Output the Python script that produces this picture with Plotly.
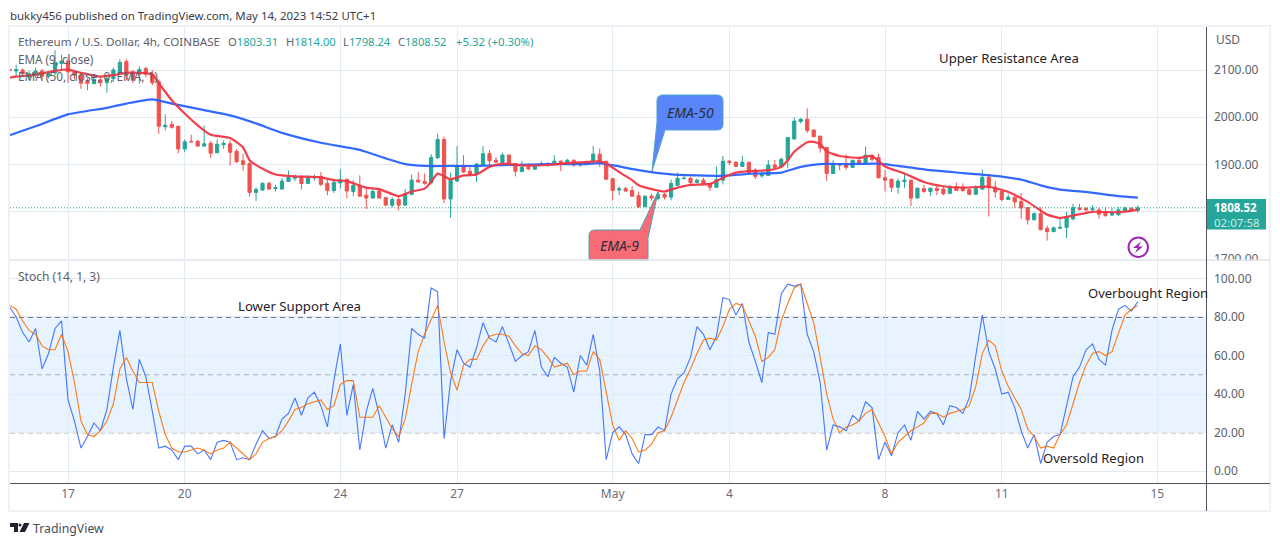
import pandas as pd
import plotly.graph_objects as go

#%% Data (4h bars, ETH/USD)

bar_times = pd.date_range("2023-04-15 13:00", periods=175, freq="4h")

opens = [2101, 2098, 2100, 2085, 2090, 2098, 2087, 2094, 2114, 2119,
         2096, 2089, 2077, 2071, 2079, 2073, 2082, 2096, 2118, 2096,
         2091, 2103, 2091, 2075, 1980, 1985, 1981, 1933, 1949, 1949,
         1939, 1945, 1925, 1942, 1944, 1928, 1908, 1902, 1841, 1846,
         1860, 1849, 1848, 1864, 1871, 1873, 1860, 1872, 1875, 1860,
         1845, 1861, 1869, 1843, 1855, 1835, 1829, 1844, 1830, 1814,
         1826, 1814, 1837, 1867, 1864, 1861, 1914, 1953, 1827, 1865,
         1898, 1886, 1879, 1899, 1923, 1909, 1904, 1920, 1902, 1885,
         1894, 1890, 1899, 1902, 1901, 1907, 1904, 1909, 1899, 1906,
         1906, 1922, 1907, 1870, 1846, 1849, 1845, 1834, 1811, 1833,
         1828, 1837, 1831, 1856, 1870, 1871, 1862, 1867, 1860, 1852,
         1867, 1907, 1905, 1896, 1905, 1888, 1876, 1877, 1899, 1895,
         1911, 1954, 1991, 1996, 1973, 1960, 1936, 1881, 1901, 1901,
         1894, 1909, 1902, 1919, 1915, 1872, 1869, 1852, 1864, 1867,
         1829, 1849, 1843, 1850, 1848, 1839, 1853, 1851, 1847, 1837,
         1848, 1873, 1852, 1843, 1826, 1831, 1822, 1809, 1783, 1796,
         1765, 1758, 1765, 1767, 1785, 1808, 1807, 1804, 1804, 1799,
         1793, 1794, 1802, 1807, 1803.31]

highs = [2103, 2111, 2103, 2098, 2105, 2102, 2096, 2142, 2132, 2125,
         2100, 2095, 2082, 2089, 2086, 2089, 2105, 2123, 2123, 2100,
         2108, 2107, 2100, 2080, 2006, 1992, 1982, 1953, 1963, 1952,
         1983, 1950, 1953, 1951, 1951, 1933, 1923, 1905, 1852, 1863,
         1864, 1857, 1871, 1887, 1879, 1877, 1877, 1879, 1884, 1868,
         1868, 1890, 1869, 1867, 1877, 1849, 1849, 1850, 1831, 1831,
         1833, 1848, 1879, 1884, 1881, 1922, 1965, 1959, 1883, 1939,
         1920, 1895, 1903, 1939, 1931, 1916, 1925, 1921, 1903, 1907,
         1902, 1901, 1907, 1905, 1920, 1909, 1912, 1911, 1906, 1908,
         1939, 1934, 1908, 1871, 1854, 1853, 1854, 1843, 1835, 1838,
         1842, 1840, 1868, 1883, 1880, 1874, 1870, 1872, 1861, 1896,
         1918, 1910, 1907, 1918, 1906, 1892, 1885, 1909, 1909, 1915,
         1958, 2000, 1998, 2019, 1974, 1961, 1937, 1909, 1903, 1921,
         1910, 1913, 1938, 1922, 1923, 1888, 1870, 1870, 1880, 1868,
         1851, 1857, 1851, 1855, 1853, 1857, 1862, 1860, 1849, 1856,
         1890, 1881, 1865, 1844, 1837, 1832, 1840, 1810, 1799, 1810,
         1771, 1769, 1789, 1800, 1817, 1817, 1810, 1814, 1808, 1810,
         1808, 1810, 1811, 1810, 1814]

lows = [2098, 2087, 2085, 2078, 2083, 2080, 2082, 2089, 2100, 2073,
        2080, 2060, 2057, 2071, 2065, 2052, 2075, 2094, 2078, 2072,
        2071, 2085, 2068, 1965, 1972, 1976, 1924, 1926, 1947, 1938,
        1937, 1914, 1924, 1933, 1898, 1903, 1887, 1832, 1823, 1845,
        1847, 1843, 1847, 1864, 1865, 1847, 1860, 1866, 1854, 1835,
        1840, 1849, 1829, 1833, 1833, 1806, 1829, 1829, 1813, 1809,
        1803, 1813, 1835, 1862, 1857, 1860, 1913, 1818, 1787, 1863,
        1882, 1875, 1863, 1898, 1896, 1902, 1903, 1900, 1875, 1884,
        1888, 1889, 1897, 1895, 1900, 1886, 1902, 1895, 1895, 1899,
        1905, 1895, 1868, 1824, 1835, 1842, 1832, 1808, 1810, 1824,
        1824, 1826, 1824, 1855, 1869, 1856, 1860, 1859, 1844, 1851,
        1858, 1899, 1895, 1895, 1881, 1869, 1872, 1876, 1893, 1894,
        1892, 1953, 1987, 1967, 1958, 1925, 1865, 1880, 1888, 1889,
        1893, 1901, 1901, 1906, 1871, 1843, 1842, 1838, 1850, 1812,
        1829, 1840, 1833, 1835, 1835, 1837, 1844, 1842, 1835, 1836,
        1847, 1790, 1830, 1822, 1825, 1809, 1785, 1773, 1782, 1761,
        1739, 1757, 1765, 1744, 1782, 1803, 1801, 1803, 1785, 1789,
        1792, 1791, 1800, 1800, 1798.24]

closes = [2099, 2101, 2092, 2092, 2098, 2087, 2092, 2116, 2119, 2096,
          2089, 2072, 2072, 2080, 2073, 2082, 2100, 2116, 2089, 2079,
          2101, 2091, 2073, 1981, 1983, 1979, 1933, 1948, 1948, 1939,
          1944, 1924, 1943, 1945, 1926, 1906, 1900, 1841, 1847, 1860,
          1848, 1851, 1865, 1873, 1873, 1860, 1872, 1873, 1858, 1845,
          1862, 1868, 1844, 1856, 1833, 1829, 1843, 1829, 1814, 1826,
          1814, 1838, 1867, 1863, 1860, 1915, 1953, 1827, 1867, 1898,
          1884, 1879, 1901, 1923, 1908, 1905, 1920, 1901, 1886, 1894,
          1891, 1896, 1902, 1899, 1907, 1902, 1909, 1899, 1904, 1901,
          1922, 1902, 1869, 1845, 1849, 1844, 1833, 1811, 1833, 1829,
          1837, 1831, 1860, 1871, 1871, 1862, 1867, 1860, 1852, 1868,
          1907, 1904, 1896, 1905, 1882, 1875, 1879, 1899, 1894, 1911,
          1957, 1992, 1996, 1972, 1959, 1935, 1881, 1901, 1899, 1894,
          1909, 1902, 1920, 1911, 1872, 1867, 1852, 1865, 1867, 1829,
          1850, 1843, 1850, 1845, 1838, 1852, 1845, 1845, 1837, 1849,
          1873, 1851, 1842, 1826, 1831, 1821, 1808, 1783, 1796, 1762,
          1758, 1766, 1767, 1789, 1809, 1805, 1804, 1806, 1795, 1792,
          1797, 1804, 1808, 1802, 1808.52]

# EMA lines, read at these bars only (position in bar_times)
ema9_bars = [0, 1, 4, 7, 9, 11, 14, 16, 18, 20, 22, 23, 25, 27, 29, 31, 34, 36, 37, 39, 41, 44, 48,
             50, 52, 55, 57, 60, 62, 64, 65, 66, 68, 70, 72, 74, 76, 79, 83, 87, 90, 91, 92, 94, 96, 97,
             99, 101, 103, 105, 108, 110, 112, 114, 117, 119, 120, 121, 123, 124, 125, 126, 128, 131,
             133, 135, 138, 141, 144, 147, 151, 154, 157, 160, 162, 164, 167, 171, 174]
ema9_vals = [2084, 2086, 2090, 2098, 2101, 2094, 2086, 2089, 2094, 2094, 2091, 2072, 2036, 2008, 1983, 1963, 1956, 1936, 1909, 1891, 1879, 1875, 1873,
             1867, 1865, 1851, 1848, 1833, 1843, 1849, 1863, 1881, 1869, 1877, 1879, 1895, 1902, 1898, 1899, 1904, 1906, 1907, 1902, 1884, 1867, 1856,
             1848, 1843, 1851, 1857, 1859, 1872, 1883, 1886, 1888, 1895, 1909, 1927, 1947, 1948, 1943, 1928, 1918, 1914,
             1918, 1896, 1881, 1863, 1854, 1851, 1853, 1842, 1821, 1794, 1787, 1792, 1800, 1799, 1804]

ema50_bars = [0, 4, 9, 15, 18, 22, 25, 30, 34, 38, 42, 48, 54, 58, 61, 64, 68, 72, 77, 83, 89, 91, 94, 97,
              102, 106, 110, 115, 119, 122, 125, 129, 134, 137, 142, 147, 152, 156, 159, 162, 166, 171, 174]
ema50_vals = [1962, 1981, 2006, 2020, 2029, 2038, 2029, 2015, 2004, 1987, 1967, 1946, 1931, 1913, 1901, 1897, 1897, 1897, 1899, 1901, 1901, 1903, 1896, 1888,
              1879, 1877, 1876, 1881, 1883, 1895, 1901, 1901, 1902, 1897, 1888, 1882, 1876, 1868, 1856, 1847, 1842, 1833, 1830]

last_price = 1808.52

stoch_k = [85, 80, 72, 67, 74, 53, 61, 74, 78, 37,
           26, 12, 18, 25, 21, 32, 54, 73, 48, 32,
           58, 49, 31, 12, 13, 11, 6, 13, 13, 9,
           11, 6, 15, 16, 15, 6, 7, 6, 14, 21,
           17, 18, 27, 30, 38, 29, 38, 41, 34, 23,
           47, 66, 29, 45, 11, 31, 43, 29, 12, 24,
           15, 40, 74, 71, 69, 95, 93, 17, 47, 63,
           56, 54, 64, 77, 69, 67, 75, 66, 57, 60,
           62, 73, 54, 49, 59, 56, 54, 41, 60, 55,
           71, 52, 6, 20, 23, 19, 9, 4, 19, 19,
           23, 21, 40, 48, 51, 59, 75, 71, 63, 70,
           90, 89, 81, 87, 67, 57, 46, 72, 71, 92,
           97, 96, 97, 71, 62, 46, 11, 24, 23, 21,
           29, 26, 36, 33, 6, 15, 8, 20, 24, 16,
           31, 27, 31, 30, 24, 34, 33, 30, 38, 60,
           81, 62, 53, 40, 41, 33, 21, 12, 19, 4,
           15, 18, 19, 34, 49, 54, 63, 66, 58, 55,
           73, 84, 86, 83, 88]

stoch_d = [86, 84, 78, 73, 71, 65, 63, 63, 71, 62,
           46, 26, 19, 18, 21, 26, 35, 53, 59, 52,
           46, 46, 46, 31, 19, 12, 10, 10, 11, 12,
           11, 9, 11, 12, 15, 12, 9, 6, 9, 15,
           17, 18, 21, 26, 32, 33, 35, 36, 37, 32,
           34, 45, 47, 47, 28, 28, 28, 34, 28, 22,
           18, 27, 45, 62, 71, 79, 86, 67, 51, 42,
           55, 58, 58, 65, 70, 71, 71, 70, 65, 61,
           60, 65, 63, 59, 54, 55, 56, 50, 52, 52,
           62, 58, 40, 24, 16, 21, 17, 10, 11, 14,
           20, 21, 28, 37, 46, 53, 61, 68, 69, 68,
           75, 84, 87, 86, 78, 70, 57, 59, 63, 78,
           87, 95, 97, 87, 77, 59, 40, 27, 20, 23,
           24, 26, 30, 32, 25, 18, 9, 15, 18, 21,
           23, 25, 30, 30, 28, 30, 31, 32, 34, 44,
           61, 68, 65, 52, 44, 38, 32, 22, 18, 12,
           13, 12, 19, 24, 35, 46, 55, 61, 62, 60,
           62, 71, 81, 84, 86]

date_ticks = ["2023-04-17 01:00", "2023-04-20 01:00", "2023-04-24 01:00", "2023-04-27 01:00",
              "2023-05-01 01:00", "2023-05-04 01:00", "2023-05-08 01:00", "2023-05-11 01:00",
              "2023-05-15 01:00"]
date_labels = ["17", "20", "24", "27", "May", "4", "8", "11", "15"]

#%% Colours and page geometry

WIDTH, HEIGHT = 1280, 546
UP, DOWN = "#26a69a", "#ef5350"
GRID = "#e3ebf2"
AXIS_TEXT = "#5d606b"
FONT = "Noto Sans"


def px(x):
    return x / WIDTH


def py(y):
    return 1 - y / HEIGHT


def paper_path(points):
    # points are page pixels: ("M", x, y), ("L", x, y), ("Q", cx, cy, x, y), ("Z",)
    out = []
    for p in points:
        coords = []
        for k, v in enumerate(p[1:]):
            coords.append(f"{px(v):.5f}" if k % 2 == 0 else f"{py(v):.5f}")
        out.append(p[0] + " " + " ".join(coords))
    return " ".join(out)


def page_shape(points, fill, line="rgba(0,0,0,0)", width=1, layer="above"):
    return dict(type="path", xref="paper", yref="paper", path=paper_path(points), fillcolor=fill,
                line=dict(color=line, width=width), layer=layer)


def page_line(x0, y0, x1, y1, color, width=1):
    return dict(type="line", xref="paper", yref="paper", x0=px(x0), y0=py(y0), x1=px(x1), y1=py(y1),
                line=dict(color=color, width=width), layer="above")


def page_rect(x0, y0, x1, y1, fill, line="rgba(0,0,0,0)", width=1):
    return dict(type="rect", xref="paper", yref="paper", x0=px(x0), y0=py(y0), x1=px(x1), y1=py(y1),
                fillcolor=fill, line=dict(color=line, width=width), layer="above")


def label(x, y, text, size=12, color="#2a2e39", anchor="left", italic=False):
    if italic:
        text = f"<i>{text}</i>"
    return dict(xref="paper", yref="paper", x=px(x), y=py(y), text=text, showarrow=False,
                xanchor=anchor, yanchor="middle", align=anchor, borderpad=0, borderwidth=0,
                font=dict(family=FONT, size=size, color=color))


#%% Traces

fig = go.Figure()

fig.add_trace(go.Candlestick(x=bar_times, open=opens, high=highs, low=lows, close=closes,
                             increasing=dict(line=dict(color=UP, width=1), fillcolor=UP),
                             decreasing=dict(line=dict(color=DOWN, width=1), fillcolor=DOWN),
                             whiskerwidth=0, xaxis="x", yaxis="y", showlegend=False))

fig.add_trace(go.Scatter(x=bar_times[ema50_bars], y=ema50_vals, mode="lines", xaxis="x", yaxis="y",
                         line=dict(color="#2962ff", width=2.2, shape="spline", smoothing=0.5),
                         opacity=0.95, showlegend=False))
fig.add_trace(go.Scatter(x=bar_times[ema9_bars], y=ema9_vals, mode="lines", xaxis="x", yaxis="y",
                         line=dict(color="#f23645", width=2.2, shape="spline", smoothing=0.5),
                         opacity=0.95, showlegend=False))

fig.add_trace(go.Scatter(x=bar_times, y=stoch_k, mode="lines", xaxis="x2", yaxis="y2",
                         line=dict(color="#2962ff", width=1.1), opacity=0.85, showlegend=False))
fig.add_trace(go.Scatter(x=bar_times, y=stoch_d, mode="lines", xaxis="x2", yaxis="y2",
                         line=dict(color="#ff6d00", width=1.1), opacity=0.9, showlegend=False))

#%% Shapes: band, levels, frame, callouts

x_range = ["2023-04-15 13:13", "2023-05-16 07:00"]

shapes = [
    dict(type="rect", xref="x2 domain", yref="y2", x0=0, x1=1, y0=20, y1=80,
         fillcolor="rgba(33,150,243,0.11)", line=dict(width=0), layer="below"),
    dict(type="line", xref="x2 domain", yref="y2", x0=0, x1=1, y0=80, y1=80,
         line=dict(color="#50535e", width=1.4, dash="5px,4px"), layer="below"),
    dict(type="line", xref="x2 domain", yref="y2", x0=0, x1=1, y0=50, y1=50,
         line=dict(color="rgba(120,123,134,0.55)", width=1, dash="5px,4px"), layer="below"),
    dict(type="line", xref="x2 domain", yref="y2", x0=0, x1=1, y0=20, y1=20,
         line=dict(color="#50535e", width=1.4, dash="5px,4px"), layer="below"),
    dict(type="line", xref="x domain", yref="y", x0=0, x1=1, y0=last_price, y1=last_price,
         line=dict(color=UP, width=1, dash="1px,2px"), layer="above"),
]

# EMA-50 callout
shapes.append(page_shape([("M", 663, 95), ("L", 717, 95), ("Q", 723, 95, 723, 101), ("L", 723, 124),
                          ("Q", 723, 130, 717, 130), ("L", 665, 130), ("L", 652, 171), ("L", 657, 122),
                          ("L", 657, 101), ("Q", 657, 95, 663, 95), ("Z",)],
                         "rgba(61,112,250,0.85)", "#4fa3c9", 1))
# EMA-9 callout, its box runs into the pane edge
shapes.append(page_shape([("M", 595, 230), ("L", 640, 230), ("L", 658, 192), ("L", 648, 238),
                          ("L", 648, 260), ("L", 589, 260), ("L", 589, 236),
                          ("Q", 589, 230, 595, 230), ("Z",)],
                         "rgba(247,82,95,0.85)", "#4f9eaa", 1))

# frame, pane separator, price axis
shapes += [
    page_rect(9, 26, 1270, 511, "rgba(0,0,0,0)", "#eff1f7", 2),
    page_line(10, 260, 1270, 260, "#dfe3ea", 1.5),
    page_rect(1207, 261, 1269, 270, "#ffffff"),
    page_line(10, 483.5, 1270, 483.5, "#50535e", 1),
    page_line(1206.5, 27, 1206.5, 511, "#50535e", 1),
    page_rect(1207, 199, 1266, 229.5, UP),
]

# lightning badge
shapes.append(dict(type="circle", xref="paper", yref="paper", x0=px(1128.5), x1=px(1148), y0=py(257), y1=py(237.5),
                   line=dict(color="#9c27b0", width=2), fillcolor="#ffffff", layer="above"))
shapes.append(page_shape([("M", 1141, 241.5), ("L", 1133, 248), ("L", 1137.5, 248), ("L", 1135, 253),
                          ("L", 1143, 246.5), ("L", 1138.5, 246.5), ("Z",)], "#9c27b0"))

# TradingView logo
shapes.append(page_shape([("M", 10, 523), ("L", 18, 523), ("L", 18, 532), ("L", 14, 532), ("L", 14, 527),
                          ("L", 10, 527), ("Z",)], "#1e222d"))
shapes.append(dict(type="circle", xref="paper", yref="paper", x0=px(18.5), x1=px(21.5), y0=py(526.5), y1=py(523.5),
                   fillcolor="#1e222d", line=dict(width=0), layer="above"))
shapes.append(page_shape([("M", 24, 523), ("L", 29.5, 523), ("L", 25, 532), ("L", 19.5, 532), ("Z",)], "#1e222d"))

#%% Text


def ohlc(letter, value):
    return f'{letter}<span style="color:{UP}">{value}</span>'


annotations = [
    label(10, 15, "bukky456 published on TradingView.com, May 14, 2023 14:52 UTC+1", 11.45, "#3a3d46"),
    label(18, 42, "Ethereum / U.S. Dollar, 4h, COINBASE", 11.65, "#5d606b"),
    label(228, 42, ohlc("O", "1803.31"), 11.2, "#5d606b"),
    label(285.5, 42, ohlc("H", "1814.00"), 11.2, "#5d606b"),
    label(343, 42, ohlc("L", "1798.24"), 11.2, "#5d606b"),
    label(398, 42, ohlc("C", "1808.52"), 11.2, "#5d606b"),
    label(455.5, 42, "+5.32 (+0.30%)", 11.4, UP),
    label(18, 59, "EMA (9, close)", 11.7, "#5d606b"),
    label(18, 76, "EMA (50, close, 0, EMA, 1)", 11.8, "#5d606b"),
    label(18, 276, "Stoch (14, 1, 3)", 12, "#5d606b"),
    label(939, 58, "Upper Resistance Area", 13.2, "#1f2229"),
    label(238, 306, "Lower Support Area", 13.2, "#1f2229"),
    label(1088, 293, "Overbought Region", 13, "#1f2229"),
    label(1043, 458, "Oversold Region", 13, "#1f2229"),
    label(690, 113, "EMA-50", 14, "#2a2e39", "center", True),
    label(619, 246, "EMA-9", 14, "#2a2e39", "center", True),
    label(1216, 40, "USD", 12, AXIS_TEXT),
    label(1214, 214.7, '<b>1808.52</b><br><span style="color:#c9eae6">02:07:58</span>', 11.5, "#ffffff"),
    label(33, 528, "TradingView", 12.3, "#4a4d57"),
]

#%% Layout

left, right = px(10), px(1206)

fig.update_layout(
    width=WIDTH,
    height=HEIGHT,
    margin=dict(l=0, r=0, t=0, b=0, autoexpand=False),
    paper_bgcolor="#ffffff",
    plot_bgcolor="#ffffff",
    font=dict(family=FONT, size=12, color=AXIS_TEXT),
    shapes=shapes,
    annotations=annotations,
    xaxis=dict(domain=[left, right], anchor="y", range=x_range, type="date", tickvals=date_ticks,
               showticklabels=False, showgrid=True, gridcolor=GRID, zeroline=False,
               rangeslider=dict(visible=False), ticks=""),
    yaxis=dict(domain=[py(260), py(27)], anchor="x", side="right", range=[1698, 2191],
               tickvals=[1700, 1800, 1900, 2000, 2100], ticktext=["1700.00", "", "1900.00", "2000.00", "2100.00"],
               showgrid=True, gridcolor=GRID, zeroline=False, ticks="", ticklabelstandoff=7,
               tickfont=dict(family=FONT, size=12, color=AXIS_TEXT)),
    xaxis2=dict(domain=[left, right], anchor="y2", range=x_range, type="date", tickvals=date_ticks,
                ticktext=date_labels, showgrid=True, gridcolor=GRID, zeroline=False, ticks="",
                ticklabelstandoff=2, tickfont=dict(family=FONT, size=12, color="#6a6d78")),
    yaxis2=dict(domain=[py(483), py(261)], anchor="x2", side="right", range=[-6.1, 109],
                tickvals=[0, 20, 40, 60, 80, 100], tickformat=".2f",
                showgrid=True, gridcolor=GRID, zeroline=False, ticks="", ticklabelstandoff=7,
                tickfont=dict(family=FONT, size=12, color=AXIS_TEXT)),
)

fig.write_html("out.html", config={"displayModeBar": False},
               post_script="document.body.style.margin='0';document.body.style.overflow='hidden';")
